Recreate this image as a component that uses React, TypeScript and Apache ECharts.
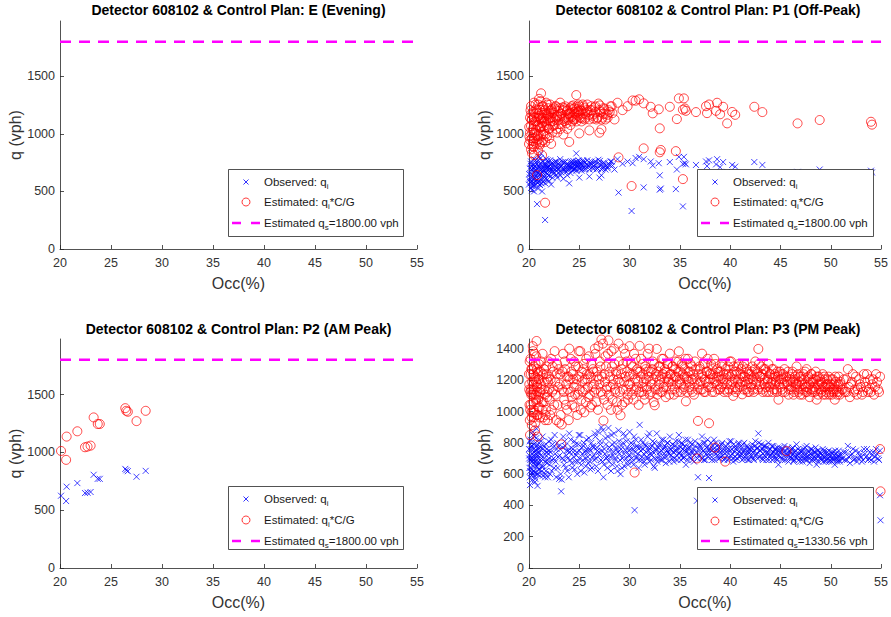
import React, { useEffect, useRef } from "react";
import * as echarts from "echarts";

const TITLES = [
  "Detector 608102 & Control Plan: E (Evening)",
  "Detector 608102 & Control Plan: P1 (Off-Peak)",
  "Detector 608102 & Control Plan: P2 (AM Peak)",
  "Detector 608102 & Control Plan: P3 (PM Peak)",
];
const CAPACITY = [1800, 1800, 1800, 1330.56];
const CAPACITY_LABELS = ["1800.00", "1800.00", "1800.00", "1330.56"];
const X_TICKS = [20, 25, 30, 35, 40, 45, 50, 55];
const Y_TICKS_A = [0, 500, 1000, 1500];
const Y_TICKS_B = [0, 200, 400, 600, 800, 1000, 1200, 1400];

// [occupancy %, observed q_i, estimated q_i*C/G]
const planE: number[][] = [];

const planP1: number[][] = [
  [20.0, 560, 912], [20.05, 600, 975], [20.1, 620, 1010], [20.1, 700, 1140], [20.15, 740, 1205],
  [20.2, 530, 865], [20.2, 655, 1068], [20.2, 760, 1240], [20.25, 690, 1120], [20.3, 590, 962],
  [20.3, 690, 1125], [20.3, 510, 832], [20.35, 545, 890], [20.4, 640, 1043], [20.4, 730, 1190],
  [20.4, 575, 937], [20.45, 705, 1150], [20.5, 665, 1084], [20.5, 780, 1271], [20.5, 545, 888],
  [20.5, 500, 815], [20.55, 620, 1010], [20.6, 610, 994], [20.6, 720, 1174], [20.6, 680, 1108],
  [20.65, 770, 1255], [20.7, 560, 913], [20.7, 745, 1214], [20.7, 635, 1035], [20.75, 660, 1075],
  [20.8, 390, 642], [20.8, 700, 1141], [20.8, 600, 978], [20.85, 580, 945], [20.9, 770, 1255],
  [20.9, 525, 856], [20.9, 660, 1076], [20.95, 720, 1175], [21.0, 710, 1157], [21.0, 585, 954],
  [21.0, 800, 1304], [21.05, 650, 1060], [21.1, 645, 1051], [21.1, 740, 1206], [21.1, 555, 905],
  [21.15, 790, 1285], [21.2, 690, 1125], [21.2, 610, 994], [21.2, 830, 1352], [21.25, 570, 930],
  [21.3, 725, 1182], [21.3, 670, 1092], [21.3, 500, 815], [21.35, 700, 1140], [21.4, 580, 945],
  [21.4, 760, 1239], [21.45, 655, 1065], [21.5, 700, 1141], [21.5, 630, 1027], [21.55, 725, 1180],
  [21.6, 252, 402], [21.6, 740, 1206], [21.65, 610, 995], [21.7, 660, 1076], [21.7, 780, 1271],
  [21.75, 695, 1130], [21.8, 600, 978], [21.8, 715, 1165], [21.85, 770, 1255], [21.9, 685, 1117],
  [21.9, 750, 1223], [21.95, 640, 1045], [22.0, 640, 1043], [22.0, 720, 1174], [22.05, 700, 1140],
  [22.1, 770, 1255], [22.15, 735, 1198], [22.2, 560, 913], [22.2, 700, 1141], [22.3, 745, 1214],
  [22.35, 680, 1108], [22.4, 655, 1068], [22.5, 725, 1182], [22.55, 750, 1222], [22.6, 690, 1125],
  [22.7, 760, 1239], [22.75, 700, 1141], [22.8, 620, 1011], [22.9, 735, 1198], [22.95, 665, 1085],
  [23.0, 705, 1149], [23.1, 780, 1271], [23.15, 720, 1175], [23.2, 665, 1084], [23.35, 755, 1230],
  [23.4, 740, 1206], [23.5, 695, 1133], [23.55, 680, 1110], [23.6, 760, 1239], [23.75, 735, 1198],
  [23.8, 640, 1043], [23.9, 720, 1174], [23.95, 700, 1140], [24.0, 570, 930], [24.1, 750, 1223],
  [24.15, 725, 1182], [24.2, 700, 1141], [24.3, 680, 1108], [24.35, 745, 1215], [24.4, 765, 1247],
  [24.5, 730, 1190], [24.55, 690, 1125], [24.6, 700, 1141], [24.7, 830, 1337], [24.75, 760, 1238],
  [24.8, 745, 1214], [24.9, 710, 1157], [24.95, 735, 1198], [25.0, 620, 1004], [25.0, 760, 1239],
  [25.15, 700, 1140], [25.2, 735, 1198], [25.3, 695, 1133], [25.35, 770, 1255], [25.5, 750, 1223],
  [25.55, 690, 1125], [25.6, 720, 1174], [25.75, 740, 1206], [25.8, 770, 1255], [25.95, 715, 1165],
  [26.0, 630, 1030], [26.1, 740, 1206], [26.2, 760, 1240], [26.3, 710, 1157], [26.4, 695, 1133],
  [26.5, 755, 1231], [26.6, 730, 1190], [26.7, 690, 1125], [26.8, 700, 1140], [26.9, 775, 1263],
  [27.0, 620, 1010], [27.05, 765, 1247], [27.1, 730, 1190], [27.2, 640, 1040], [27.3, 700, 1141],
  [27.4, 720, 1174], [27.5, 745, 1214], [27.6, 690, 1125], [27.8, 715, 1165], [27.9, 740, 1206],
  [28.1, 760, 1239], [28.3, 725, 1180], [28.5, 690, 1125], [28.8, 780, 1270], [28.9, 490, 796],
  [29.3, 740, 1206], [29.8, 760, 1240], [30.2, 330, 547], [30.3, 745, 1290], [30.6, 790, 1288],
  [30.95, 800, 1300], [31.4, 535, 874], [31.4, 780, 1265], [32.1, 760, 1235], [32.3, 725, 1178],
  [32.9, 745, 1213], [33.0, 515, 840], [33.1, 525, 860], [33.0, 640, 1048], [34.0, 755, 1235],
  [34.6, 520, 850], [34.7, 690, 1128], [34.9, 800, 1308], [35.3, 370, 607], [35.4, 800, 1308],
  [35.3, 740, 1210], [35.5, 745, 1220], [35.6, 735, 1200], [36.6, 730, 1189], [37.6, 760, 1240],
  [37.9, 770, 1255], [38.7, 780, 1270], [39.3, 755, 1235], [37.7, 720, 1180], [38.6, 735, 1200],
  [39.0, 710, 1170], [40.2, 730, 1190], [40.5, 715, 1165], [39.7, 670, 1091], [42.4, 755, 1235],
  [43.2, 730, 1189], [46.7, 670, 1091], [48.9, 690, 1120], [54.0, 680, 1105], [54.1, 665, 1080],
];

const planP1More: number[][] = [
  [20.02, 650, 1060], [20.12, 580, 945], [20.22, 720, 1174], [20.32, 620, 1010], [20.42, 560, 913],
  [20.52, 700, 1141], [20.62, 590, 962], [20.72, 680, 1108], [20.82, 740, 1206], [20.92, 610, 994],
  [21.02, 560, 913], [21.12, 700, 1141], [21.22, 650, 1060], [21.32, 760, 1239], [21.42, 610, 994],
  [21.52, 680, 1108], [21.62, 570, 929], [21.72, 720, 1174], [21.82, 650, 1060], [21.92, 710, 1157],
  [22.02, 590, 962], [22.12, 680, 1108], [22.22, 740, 1206], [22.32, 620, 1011], [22.42, 700, 1141],
  [22.52, 660, 1076], [22.62, 760, 1239], [22.72, 640, 1043], [22.82, 710, 1157], [22.92, 690, 1125],
  [23.02, 750, 1223], [23.12, 640, 1043], [23.22, 720, 1174], [23.32, 690, 1125], [23.42, 610, 994],
  [23.52, 750, 1223], [23.62, 700, 1141], [23.72, 670, 1092], [23.82, 740, 1206], [23.92, 690, 1125],
  [24.02, 720, 1174], [24.12, 660, 1076], [24.22, 760, 1239], [24.32, 710, 1157], [24.42, 690, 1125],
  [24.52, 750, 1223], [24.62, 720, 1174], [24.72, 680, 1108], [24.82, 730, 1190], [24.92, 770, 1255],
  [25.02, 700, 1141], [25.12, 740, 1206], [25.22, 680, 1108], [25.32, 720, 1174], [25.42, 760, 1239],
  [25.62, 700, 1141], [25.82, 730, 1190], [26.02, 690, 1125], [26.22, 740, 1206], [26.42, 720, 1174],
  [26.62, 760, 1239], [26.82, 700, 1141], [27.02, 740, 1206], [27.22, 690, 1125], [27.42, 750, 1223],
  [27.62, 720, 1174], [27.82, 700, 1141], [28.02, 730, 1190], [28.22, 760, 1239],
];

const planP2: number[][] = [
  [20.1, 625, 1012], [20.6, 579, 935], [20.65, 703, 1136], [21.7, 734, 1182], [22.45, 648, 1044],
  [22.7, 651, 1050], [23.0, 657, 1058], [23.3, 806, 1302], [23.7, 771, 1245], [23.9, 771, 1245],
  [26.4, 857, 1382], [26.5, 845, 1359], [26.65, 837, 1351], [27.5, 789, 1270], [28.4, 840, 1359],
];

const planP3: number[][] = [
  [20.0, 760, 1239], [20.05, 640, 1043], [20.1, 530, 850], [20.15, 820, 1337], [20.2, 700, 1141],
  [20.25, 610, 995], [20.3, 780, 1271], [20.35, 680, 1108], [20.4, 850, 1386], [20.45, 720, 1174],
  [20.5, 590, 962], [20.55, 740, 1206], [20.6, 550, 880], [20.65, 800, 1304], [20.7, 660, 1076],
  [20.75, 890, 1451], [20.8, 710, 1157], [20.85, 525, 840], [20.9, 770, 1255], [20.95, 630, 1027],
  [21.0, 740, 1206], [21.1, 690, 1125], [21.2, 810, 1320], [21.3, 620, 1011], [21.4, 760, 1239],
  [21.5, 700, 1141], [21.6, 580, 945], [21.7, 790, 1288], [21.8, 670, 1092], [21.9, 730, 1190],
  [22.0, 750, 1223], [22.1, 600, 978], [22.2, 820, 1337], [22.3, 690, 1125], [22.4, 770, 1255],
  [22.5, 640, 1043], [22.6, 730, 1190], [22.7, 580, 945], [22.8, 800, 1304], [22.9, 710, 1157],
  [23.0, 570, 929], [23.1, 760, 1239], [23.2, 490, 790], [23.25, 565, 917], [23.3, 700, 1141],
  [23.4, 840, 1369], [23.5, 660, 1076], [23.6, 780, 1271], [23.7, 720, 1174], [23.8, 620, 1011],
  [23.9, 750, 1223], [24.0, 860, 1402], [24.1, 690, 1125], [24.2, 770, 1255], [24.3, 640, 1043],
  [24.4, 740, 1206], [24.5, 810, 1320], [24.6, 680, 1108], [24.7, 720, 1174], [24.8, 600, 978],
  [24.9, 790, 1288], [25.0, 750, 1223], [25.1, 850, 1386], [25.2, 660, 1076], [25.3, 730, 1190],
  [25.4, 780, 1271], [25.5, 610, 995], [25.6, 700, 1141], [25.7, 820, 1337], [25.8, 740, 1206],
  [25.9, 670, 1092], [26.0, 760, 1239], [26.1, 630, 1027], [26.2, 800, 1304], [26.3, 710, 1157],
  [26.4, 770, 1255], [26.5, 690, 1125], [26.6, 840, 1369], [26.7, 650, 1060], [26.8, 750, 1223],
  [26.9, 870, 1418], [27.0, 720, 1174], [27.1, 790, 1288], [27.2, 900, 1460], [27.3, 680, 1108],
  [27.4, 580, 942], [27.5, 760, 1239], [27.6, 830, 1353], [27.7, 700, 1141], [27.8, 640, 1043],
  [27.9, 895, 1455], [28.0, 770, 1255], [28.1, 710, 1157], [28.2, 850, 1386], [28.3, 660, 1076],
  [28.4, 740, 1206], [28.5, 800, 1304], [28.6, 690, 1125], [28.7, 760, 1239], [28.8, 620, 1011],
  [28.9, 880, 1434], [29.0, 730, 1190], [29.1, 600, 976], [29.2, 780, 1271], [29.3, 700, 1141],
  [29.4, 860, 1402], [29.5, 650, 1060], [29.6, 750, 1223], [29.7, 810, 1320], [29.8, 680, 1108],
  [29.9, 720, 1174], [30.0, 870, 1418], [30.1, 760, 1239], [30.2, 700, 1141], [30.3, 790, 1288],
  [30.4, 660, 1076], [30.5, 370, 610], [30.55, 740, 1206], [30.6, 820, 1337], [30.7, 710, 1157],
  [30.8, 770, 1255], [30.9, 640, 1043], [31.0, 915, 1420], [31.1, 750, 1223], [31.2, 690, 1125],
  [31.3, 800, 1304], [31.4, 730, 1190], [31.5, 660, 1076], [31.6, 780, 1271], [31.7, 710, 1157],
  [31.8, 840, 1369], [31.9, 750, 1223], [32.0, 680, 1108], [32.1, 770, 1255], [32.2, 720, 1174],
  [32.3, 810, 1320], [32.4, 650, 1060], [32.5, 640, 1040], [32.6, 760, 1239], [32.7, 860, 1400],
  [32.8, 700, 1141], [32.9, 790, 1288], [33.0, 740, 1206], [33.1, 690, 1125], [33.2, 820, 1337],
  [33.3, 760, 1239], [33.4, 710, 1157], [33.5, 780, 1271], [33.6, 670, 1092], [33.7, 750, 1223],
  [33.8, 800, 1304], [33.9, 730, 1190], [34.0, 840, 1370], [34.1, 760, 1239], [34.2, 700, 1141],
  [34.3, 790, 1288], [34.4, 680, 1108], [34.5, 750, 1223], [34.6, 810, 1320], [34.7, 720, 1174],
  [34.8, 770, 1255], [34.9, 850, 1385], [35.0, 740, 1206], [35.1, 690, 1125], [35.2, 800, 1304],
  [35.3, 760, 1239], [35.4, 710, 1157], [35.5, 780, 1271], [35.6, 660, 1065], [35.7, 750, 1223],
  [35.8, 820, 1337], [35.9, 730, 1190], [36.0, 770, 1255], [36.1, 700, 1141], [36.2, 790, 1288],
  [36.3, 740, 1206], [36.4, 680, 1108], [36.5, 810, 1320], [36.7, 430, 700], [36.8, 580, 940],
  [36.85, 760, 1239], [36.9, 720, 1174], [37.0, 780, 1271], [37.1, 700, 1141], [37.2, 840, 1370],
  [37.3, 750, 1223], [37.4, 690, 1125], [37.5, 800, 1304], [37.6, 730, 1190], [37.7, 770, 1255],
  [37.8, 710, 1157], [37.9, 575, 925], [37.95, 760, 1239], [38.0, 740, 1206], [38.1, 800, 1304],
  [38.2, 690, 1125], [38.3, 760, 1239], [38.4, 820, 1337], [38.5, 470, 770], [38.6, 730, 1190],
  [38.7, 780, 1271], [38.8, 700, 1141], [38.9, 750, 1223], [39.0, 770, 1255], [39.1, 710, 1157],
  [39.2, 800, 1304], [39.3, 740, 1206], [39.4, 690, 1125], [39.5, 420, 680], [39.6, 760, 1239],
  [39.7, 720, 1174], [39.8, 790, 1288], [39.9, 700, 1141], [40.0, 750, 1223], [40.1, 810, 1320],
  [40.2, 730, 1190], [40.3, 680, 1100], [40.4, 770, 1255], [40.5, 710, 1157], [40.6, 760, 1239],
  [40.7, 700, 1141], [40.8, 790, 1288], [40.9, 740, 1206], [41.0, 720, 1174], [41.1, 780, 1271],
  [41.2, 690, 1110], [41.3, 750, 1223], [41.4, 800, 1304], [41.5, 730, 1190], [41.6, 700, 1141],
  [41.7, 770, 1255], [41.8, 740, 1206], [41.9, 690, 1125], [42.0, 760, 1239], [42.1, 720, 1174],
  [42.2, 790, 1288], [42.3, 700, 1141], [42.4, 750, 1223], [42.5, 810, 1320], [42.6, 730, 1190],
  [42.7, 770, 1255], [42.8, 860, 1400], [42.9, 710, 1157], [43.0, 750, 1223], [43.1, 790, 1288],
  [43.2, 700, 1141], [43.3, 760, 1239], [43.4, 720, 1174], [43.5, 780, 1271], [43.6, 690, 1125],
  [43.7, 740, 1206], [43.8, 800, 1304], [43.9, 710, 1157], [44.0, 760, 1239], [44.1, 730, 1190],
  [44.2, 690, 1125], [44.3, 780, 1271], [44.4, 720, 1174], [44.5, 750, 1223], [44.6, 700, 1141],
  [44.7, 770, 1255], [44.8, 660, 1076], [44.9, 740, 1206], [45.0, 710, 1157], [45.1, 760, 1239],
  [45.2, 690, 1125], [45.3, 740, 1206], [45.4, 780, 1271], [45.6, 460, 747], [45.7, 720, 1174],
  [45.8, 680, 1108], [45.9, 750, 1223], [46.0, 730, 1190], [46.1, 700, 1141], [46.2, 770, 1255],
  [46.3, 680, 1108], [46.4, 740, 1206], [46.5, 710, 1157], [46.6, 790, 1288], [46.7, 720, 1174],
  [46.8, 690, 1125], [46.9, 750, 1223], [47.0, 700, 1141], [47.1, 740, 1206], [47.2, 680, 1108],
  [47.3, 760, 1239], [47.4, 720, 1174], [47.5, 690, 1125], [47.6, 780, 1271], [47.7, 710, 1157],
  [47.8, 740, 1206], [47.9, 670, 1092], [48.0, 730, 1190], [48.1, 760, 1239], [48.2, 700, 1141],
  [48.3, 740, 1206], [48.4, 690, 1125], [48.5, 770, 1255], [48.6, 660, 1076], [48.7, 720, 1174],
  [48.8, 750, 1223], [48.9, 700, 1141], [49.0, 730, 1190], [49.1, 690, 1125], [49.2, 760, 1239],
  [49.3, 710, 1157], [49.4, 740, 1206], [49.5, 680, 1108], [49.6, 720, 1174], [49.7, 700, 1141],
  [49.8, 750, 1223], [49.9, 690, 1125], [50.0, 720, 1174], [50.1, 680, 1108], [50.2, 740, 1206],
  [50.3, 700, 1141], [50.4, 660, 1076], [50.5, 730, 1190], [50.6, 690, 1125], [50.7, 710, 1157],
  [50.8, 750, 1223], [50.9, 680, 1108], [51.0, 720, 1174], [51.2, 700, 1141], [51.4, 690, 1125],
  [51.5, 740, 1206], [51.7, 780, 1271], [51.8, 710, 1157], [51.9, 670, 1092], [52.1, 730, 1190],
  [52.3, 690, 1125], [52.5, 750, 1223], [52.7, 700, 1141], [52.9, 720, 1174], [53.1, 680, 1108],
  [53.3, 760, 1239], [53.5, 710, 1157], [53.7, 690, 1125], [53.9, 740, 1206], [54.1, 720, 1174],
  [54.3, 680, 1108], [54.5, 760, 1239], [54.7, 700, 1141], [54.9, 750, 1223], [54.95, 305, 490],
  [54.9, 465, 760],
];

const planP3More: number[][] = [
  [20.02, 700, 1141], [20.07, 810, 1320], [20.12, 620, 1011], [20.17, 760, 1239], [20.22, 680, 1108],
  [20.27, 590, 962], [20.32, 730, 1190], [20.37, 870, 1418], [20.42, 650, 1060], [20.47, 790, 1288],
  [20.52, 700, 1141], [20.57, 610, 994], [20.62, 750, 1223], [20.67, 680, 1108], [20.72, 830, 1353],
  [20.77, 600, 978], [20.82, 720, 1174], [20.87, 760, 1239], [20.92, 660, 1076], [20.97, 800, 1304],
  [20.03, 720, 1174], [20.08, 580, 945], [20.13, 690, 1125], [20.18, 640, 1043], [20.23, 780, 1271],
  [20.28, 560, 913], [20.33, 700, 1141], [20.38, 610, 994], [20.43, 760, 1239], [20.48, 620, 1011],
  [20.53, 680, 1108], [20.58, 840, 1369], [20.63, 570, 929], [20.68, 730, 1190], [20.73, 650, 1060],
  [20.78, 780, 1271], [20.83, 690, 1125], [20.88, 600, 978], [20.93, 740, 1206], [20.98, 670, 1092],
  [21.05, 630, 1027], [21.15, 770, 1255], [21.25, 700, 1141], [21.35, 840, 1369], [21.45, 650, 1060],
  [21.55, 730, 1190], [21.65, 600, 978], [21.75, 760, 1239], [21.85, 690, 1125], [21.95, 810, 1320],
  [21.08, 590, 962], [21.18, 720, 1174], [21.28, 650, 1060], [21.38, 590, 962], [21.48, 780, 1271],
  [21.58, 680, 1108], [21.68, 620, 1011], [21.78, 740, 1206], [21.88, 580, 945], [21.98, 700, 1141],
  [22.05, 660, 1076], [22.15, 740, 1206], [22.25, 620, 1011], [22.35, 790, 1288], [22.45, 700, 1141],
  [22.55, 850, 1386], [22.65, 680, 1108], [22.75, 760, 1239], [22.85, 640, 1043], [22.95, 780, 1271],
  [23.05, 720, 1174], [23.15, 600, 978], [23.35, 770, 1255], [23.45, 690, 1125], [23.55, 810, 1320],
  [23.65, 640, 1043], [23.75, 750, 1223], [23.85, 700, 1141], [23.95, 580, 945], [24.05, 740, 1206],
  [24.15, 820, 1337], [24.25, 670, 1092], [24.35, 760, 1239], [24.45, 710, 1157], [24.55, 630, 1027],
  [24.65, 790, 1288], [24.75, 740, 1206], [24.85, 680, 1108], [24.95, 850, 1386], [25.05, 700, 1141],
  [25.15, 620, 1011], [25.25, 770, 1255], [25.35, 690, 1125], [25.45, 800, 1304], [25.55, 740, 1206],
  [25.65, 650, 1060], [25.75, 760, 1239], [25.85, 710, 1157], [25.95, 830, 1353], [26.05, 680, 1108],
  [26.15, 750, 1223], [26.25, 640, 1043], [26.35, 780, 1271], [26.45, 720, 1174], [26.55, 860, 1402],
  [26.65, 700, 1141], [26.75, 770, 1255], [26.85, 620, 1011], [26.95, 740, 1206], [27.05, 810, 1320],
  [27.15, 690, 1125], [27.25, 750, 1223], [27.35, 880, 1434], [27.45, 660, 1076], [27.55, 730, 1190],
  [27.65, 790, 1288], [27.75, 710, 1157], [27.85, 840, 1369], [27.95, 680, 1108], [28.05, 750, 1223],
  [28.15, 620, 1011], [28.25, 790, 1288], [28.35, 720, 1174], [28.45, 860, 1402], [28.55, 700, 1141],
  [28.65, 770, 1255], [28.75, 650, 1060], [28.85, 740, 1206], [28.95, 810, 1320], [29.05, 690, 1125],
  [29.15, 760, 1239], [29.25, 640, 1043], [29.35, 800, 1304], [29.45, 730, 1190], [29.55, 840, 1369],
  [29.65, 700, 1141], [29.75, 770, 1255], [29.85, 660, 1076], [29.95, 750, 1223], [30.05, 720, 1174],
  [30.15, 800, 1304], [30.25, 680, 1108], [30.35, 760, 1239], [30.45, 840, 1369], [30.65, 700, 1141],
  [30.75, 780, 1271], [30.85, 730, 1190], [30.95, 690, 1125], [31.05, 770, 1255], [31.15, 820, 1337],
  [31.25, 710, 1157], [31.35, 760, 1239], [31.45, 680, 1108], [31.55, 790, 1288], [31.65, 740, 1206],
  [31.75, 700, 1141], [31.85, 770, 1255], [31.95, 860, 1402], [32.05, 730, 1190], [32.15, 690, 1125],
  [32.25, 780, 1271], [32.35, 740, 1206], [32.45, 800, 1304], [32.55, 700, 1141], [32.65, 750, 1223],
  [32.75, 680, 1108], [32.85, 770, 1255], [32.95, 720, 1174], [33.05, 790, 1288], [33.15, 750, 1223],
  [33.25, 690, 1125], [33.35, 820, 1337], [33.45, 730, 1190], [33.55, 770, 1255], [33.65, 710, 1157],
  [33.75, 800, 1304], [33.85, 740, 1206], [33.95, 680, 1108], [34.05, 760, 1239], [34.15, 720, 1174],
  [34.25, 790, 1288], [34.35, 740, 1206], [34.45, 700, 1141], [34.55, 780, 1271], [34.65, 750, 1223],
  [34.75, 690, 1125], [34.85, 810, 1320], [34.95, 730, 1190], [35.05, 770, 1255], [35.15, 720, 1174],
  [35.25, 790, 1288], [35.35, 700, 1141], [35.45, 750, 1223], [35.55, 820, 1337], [35.65, 740, 1206],
  [35.75, 690, 1125], [35.85, 770, 1255], [35.95, 710, 1157], [36.05, 800, 1304], [36.15, 740, 1206],
  [36.25, 690, 1125], [36.35, 760, 1239], [36.45, 720, 1174], [36.55, 780, 1271], [36.65, 740, 1206],
  [36.75, 700, 1141], [36.95, 790, 1288], [37.05, 730, 1190], [37.15, 760, 1239], [37.25, 700, 1141],
  [37.35, 800, 1304], [37.45, 740, 1206], [37.55, 690, 1125], [37.65, 770, 1255], [37.75, 820, 1337],
  [37.85, 730, 1190], [38.05, 760, 1239], [38.15, 710, 1157], [38.25, 780, 1271], [38.35, 740, 1206],
  [38.45, 690, 1125], [38.55, 800, 1304], [38.65, 750, 1223], [38.75, 720, 1174], [38.85, 770, 1255],
  [38.95, 700, 1141], [39.05, 740, 1206], [39.15, 790, 1288], [39.25, 720, 1174], [39.35, 760, 1239],
  [39.45, 700, 1141], [39.55, 780, 1271], [39.65, 740, 1206], [39.75, 690, 1125], [39.85, 760, 1239],
  [39.95, 810, 1320], [40.05, 720, 1174], [40.15, 760, 1239], [40.25, 700, 1141], [40.35, 790, 1288],
  [40.45, 740, 1206], [40.55, 690, 1125], [40.65, 770, 1255], [40.75, 730, 1190], [40.85, 800, 1304],
  [40.95, 710, 1157], [41.05, 760, 1239], [41.15, 730, 1190], [41.25, 790, 1288], [41.35, 700, 1141],
  [41.45, 750, 1223], [41.55, 720, 1174], [41.65, 780, 1271], [41.75, 690, 1125], [41.85, 760, 1239],
  [41.95, 740, 1206], [42.05, 710, 1157], [42.15, 770, 1255], [42.25, 740, 1206], [42.35, 690, 1125],
  [42.45, 780, 1271], [42.55, 720, 1174], [42.65, 760, 1239], [42.75, 700, 1141], [42.85, 800, 1304],
  [42.95, 750, 1223], [43.05, 720, 1174], [43.15, 760, 1239], [43.25, 690, 1125], [43.35, 780, 1271],
  [43.45, 740, 1206], [43.55, 710, 1157], [43.65, 770, 1255], [43.75, 730, 1190], [43.85, 690, 1125],
  [43.95, 760, 1239], [44.05, 720, 1174], [44.15, 780, 1271], [44.25, 740, 1206], [44.35, 700, 1141],
  [44.45, 760, 1239], [44.55, 730, 1190], [44.65, 690, 1125], [44.75, 750, 1223], [44.85, 720, 1174],
  [44.95, 770, 1255], [45.05, 740, 1206], [45.15, 700, 1141], [45.25, 760, 1239], [45.35, 720, 1174],
  [45.45, 690, 1125], [45.55, 750, 1223], [45.65, 730, 1190], [45.75, 770, 1255], [45.85, 700, 1141],
  [45.95, 740, 1206], [46.05, 710, 1157], [46.15, 760, 1239], [46.25, 730, 1190], [46.35, 690, 1125],
  [46.45, 750, 1223], [46.55, 720, 1174], [46.65, 700, 1141], [46.75, 760, 1239], [46.85, 730, 1190],
  [46.95, 680, 1108], [47.05, 750, 1223], [47.15, 720, 1174], [47.25, 700, 1141], [47.35, 740, 1206],
  [47.45, 770, 1255], [47.55, 710, 1157], [47.65, 690, 1125], [47.75, 750, 1223], [47.85, 720, 1174],
  [47.95, 700, 1141], [48.05, 760, 1239], [48.15, 690, 1125], [48.25, 730, 1190], [48.35, 710, 1157],
  [48.45, 740, 1206], [48.55, 700, 1141], [48.65, 750, 1223], [48.75, 680, 1108], [48.85, 720, 1174],
  [48.95, 740, 1206], [49.05, 700, 1141], [49.15, 720, 1174], [49.25, 680, 1108], [49.35, 750, 1223],
  [49.45, 710, 1157], [49.55, 690, 1125], [49.65, 740, 1206], [49.75, 720, 1174], [49.85, 680, 1108],
  [49.95, 710, 1157], [50.05, 740, 1206], [50.15, 700, 1141], [50.25, 690, 1125], [50.35, 720, 1174],
  [50.45, 750, 1223], [50.55, 700, 1141], [50.65, 680, 1108], [50.75, 720, 1174], [50.85, 690, 1125],
  [50.95, 730, 1190], [51.1, 700, 1141], [51.3, 740, 1206], [51.6, 690, 1125], [52.0, 720, 1174],
  [52.2, 760, 1239], [52.4, 700, 1141], [52.6, 680, 1108], [52.8, 740, 1206], [53.0, 710, 1157],
  [53.2, 690, 1125], [53.4, 730, 1190], [53.6, 760, 1239], [53.8, 700, 1141], [54.0, 690, 1125],
  [54.2, 740, 1206], [54.4, 710, 1157], [54.6, 730, 1190], [54.8, 690, 1125],
];

const PLANS = [planE, planP1.concat(planP1More), planP2, planP3.concat(planP3More)];

const FONT = "'Liberation Sans', Arial, Helvetica, sans-serif";
const AXIS_COLOR = "#262626";
const LABEL_COLOR = "#333333";
const X_SYMBOL = "path://M0,0L10,10M10,0L0,10";

const GRIDS = [
  { left: 60, top: 21, width: 357, height: 228 },
  { left: 529, top: 21, width: 358, height: 228 },
  { left: 60, top: 339, width: 357, height: 229 },
  { left: 529, top: 339, width: 358, height: 229 },
];
const Y_MAX = [1980, 1980, 1980, 1463.6];

const LEGENDS = [
  { x: 228, y: 169, w: 175, h: 67, rows: [182, 202, 223] },
  { x: 697, y: 169, w: 176, h: 67, rows: [182, 202, 223] },
  { x: 228, y: 486, w: 175, h: 63, rows: [499, 520, 541] },
  { x: 697, y: 487, w: 176, h: 62, rows: [500, 521, 541] },
];

const RICH = {
  t: { fontSize: 11.5, fontFamily: FONT, fill: "#1a1a1a", lineHeight: 16 },
  s: { fontSize: 8, fontFamily: FONT, fill: "#1a1a1a", lineHeight: 16, verticalAlign: "bottom" },
};

function legendElements(i: number) {
  const L = LEGENDS[i];
  const mx = L.x + 18;
  const tx = L.x + 36;
  const z = 100;
  return [
    {
      type: "rect",
      z,
      shape: { x: L.x + 0.5, y: L.y + 0.5, width: L.w, height: L.h },
      style: { fill: "#ffffff", stroke: AXIS_COLOR, lineWidth: 0.8 },
      silent: true,
    },
    {
      type: "line",
      z: z + 1,
      shape: { x1: mx - 2.5, y1: L.rows[0] - 2.5, x2: mx + 2.5, y2: L.rows[0] + 2.5 },
      style: { stroke: "#0000ff", lineWidth: 1, opacity: 0.8 },
    },
    {
      type: "line",
      z: z + 1,
      shape: { x1: mx + 2.5, y1: L.rows[0] - 2.5, x2: mx - 2.5, y2: L.rows[0] + 2.5 },
      style: { stroke: "#0000ff", lineWidth: 1, opacity: 0.8 },
    },
    {
      type: "circle",
      z: z + 1,
      shape: { cx: mx, cy: L.rows[1], r: 4 },
      style: { fill: "none", stroke: "#ff0000", lineWidth: 0.9, opacity: 0.85 },
    },
    {
      type: "line",
      z: z + 1,
      shape: { x1: L.x + 4, y1: L.rows[2], x2: L.x + 32, y2: L.rows[2] },
      style: { stroke: "#ff00ff", lineWidth: 2.5, lineDash: [9, 10] },
    },
    {
      type: "text",
      z: z + 1,
      x: tx,
      y: L.rows[0],
      style: { text: "{t|Observed: q}{s|i}", rich: RICH, verticalAlign: "middle", align: "left" },
    },
    {
      type: "text",
      z: z + 1,
      x: tx,
      y: L.rows[1],
      style: { text: "{t|Estimated: q}{s|i}{t|*C/G}", rich: RICH, verticalAlign: "middle", align: "left" },
    },
    {
      type: "text",
      z: z + 1,
      x: tx,
      y: L.rows[2],
      style: {
        text: "{t|Estimated q}{s|s}{t|=" + CAPACITY_LABELS[i] + " vph}",
        rich: RICH,
        verticalAlign: "middle",
        align: "left",
      },
    },
  ];
}

export default function App() {
  const ref = useRef<HTMLDivElement>(null);
  useEffect(() => {
    if (!ref.current) return;
    const chart = echarts.init(ref.current, undefined, { renderer: "svg" });
    const grid = GRIDS.map((g) => ({ ...g, containLabel: false }));
    const xAxis = GRIDS.map((_, i) => ({
      type: "value",
      gridIndex: i,
      min: 20,
      max: 55,
      interval: 5,
      name: "Occ(%)",
      nameLocation: "middle",
      nameGap: 26,
      nameTextStyle: { fontSize: 16, color: LABEL_COLOR, fontFamily: FONT },
      axisLine: { show: true, lineStyle: { color: AXIS_COLOR, width: 0.8 } },
      axisTick: { show: true, inside: true, length: 4, lineStyle: { color: AXIS_COLOR, width: 0.8 }, customValues: X_TICKS },
      axisLabel: {
        color: LABEL_COLOR,
        fontSize: 12.5,
        fontFamily: FONT,
        margin: 7,
        customValues: X_TICKS,
        formatter: (v: number) => String(v),
      },
      splitLine: { show: false },
    }));
    const yAxis = GRIDS.map((_, i) => {
      const ticks = i === 3 ? Y_TICKS_B : Y_TICKS_A;
      return {
        type: "value",
        gridIndex: i,
        min: 0,
        max: Y_MAX[i],
        name: "q (vph)",
        nameLocation: "middle",
        nameGap: 35,
        nameTextStyle: { fontSize: 16, color: LABEL_COLOR, fontFamily: FONT },
        axisLine: { show: true, lineStyle: { color: AXIS_COLOR, width: 0.8 } },
        axisTick: { show: true, inside: true, length: 4, lineStyle: { color: AXIS_COLOR, width: 0.8 }, customValues: ticks },
        axisLabel: {
          color: LABEL_COLOR,
          fontSize: 12.5,
          fontFamily: FONT,
          margin: 5,
          customValues: ticks,
          formatter: (v: number) => String(v),
        },
        splitLine: { show: false },
      };
    });
    const series: any[] = [];
    PLANS.forEach((rows, i) => {
      series.push({
        type: "scatter",
        name: "Observed: q_i",
        xAxisIndex: i,
        yAxisIndex: i,
        data: rows.map((r) => [r[0], r[1]]),
        symbol: X_SYMBOL,
        symbolSize: 6,
        itemStyle: { color: "none", borderColor: "#0000ff", borderWidth: 1, opacity: 0.75 },
        silent: true,
        z: 2,
      });
      series.push({
        type: "scatter",
        name: "Estimated: q_i*C/G",
        xAxisIndex: i,
        yAxisIndex: i,
        data: rows.map((r) => [r[0], r[2]]),
        symbol: "circle",
        symbolSize: 9,
        itemStyle: { color: "rgba(0,0,0,0)", borderColor: "#ff0000", borderWidth: 0.9, opacity: 0.8 },
        silent: true,
        z: 3,
      });
      series.push({
        type: "line",
        name: "Estimated q_s",
        xAxisIndex: i,
        yAxisIndex: i,
        data: [
          [20, CAPACITY[i]],
          [55, CAPACITY[i]],
        ],
        symbol: "none",
        lineStyle: { color: "#ff00ff", width: 2.5, type: [11, 8] },
        silent: true,
        z: 4,
      });
    });
    const centers = GRIDS.map((g) => g.left + g.width / 2);
    const title = TITLES.map((t, i) => ({
      text: t,
      left: centers[i],
      top: i < 2 ? 3 : 322,
      padding: 0,
      textAlign: "center",
      textStyle: { fontSize: 14, fontWeight: "bold", color: "#000", fontFamily: FONT },
    }));
    const graphic = [0, 1, 2, 3].flatMap((i) => legendElements(i));
    chart.setOption({
      animation: false,
      backgroundColor: "#ffffff",
      title,
      grid,
      xAxis,
      yAxis,
      series,
      graphic,
    });
    return () => chart.dispose();
  }, []);
  return (
    <div
      ref={ref}
      style={{ position: "fixed", left: 0, top: 0, width: 891, height: 617, background: "#fff" }}
    />
  );
}
